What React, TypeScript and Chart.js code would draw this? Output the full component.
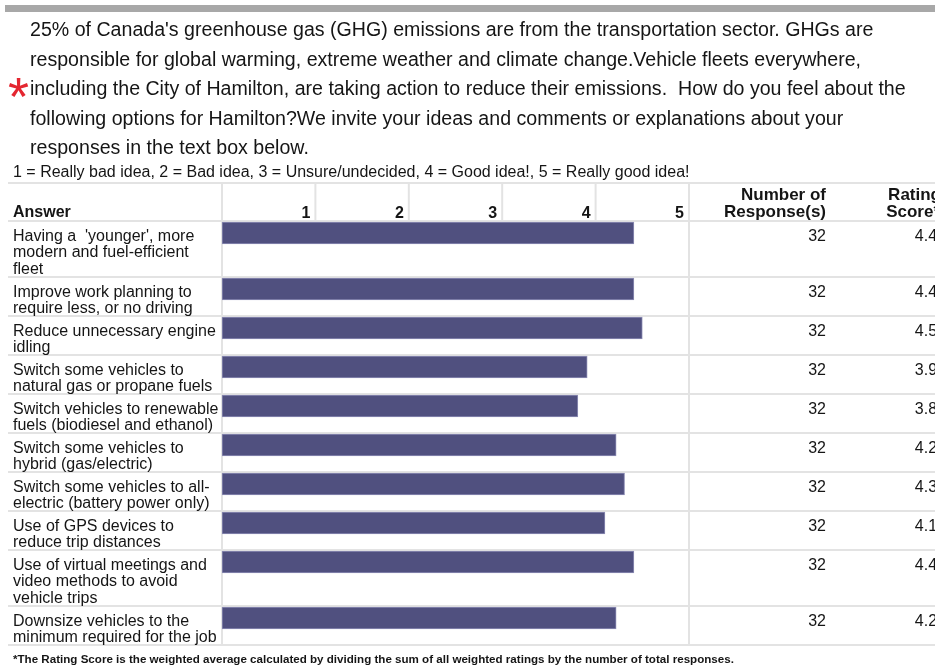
import React, { useEffect, useRef } from "react";
import { Chart, registerables } from "chart.js";

Chart.register(...registerables);

const introLines = [
  "25% of Canada's greenhouse gas (GHG) emissions are from the transportation sector. GHGs are",
  "responsible for global warming, extreme weather and climate change.Vehicle fleets everywhere,",
  "including the City of Hamilton, are taking action to reduce their emissions.  How do you feel about the",
  "following options for Hamilton?We invite your ideas and comments or explanations about your",
  "responses in the text box below.",
];
const scaleLegend =
  "1 = Really bad idea, 2 = Bad idea, 3 = Unsure/undecided, 4 = Good idea!, 5 = Really good idea!";
const answerLabels: string[][] = [
  ["Having a  'younger', more", "modern and fuel-efficient", "fleet"],
  ["Improve work planning to", "require less, or no driving"],
  ["Reduce unnecessary engine", "idling"],
  ["Switch some vehicles to", "natural gas or propane fuels"],
  ["Switch vehicles to renewable", "fuels (biodiesel and ethanol)"],
  ["Switch some vehicles to", "hybrid (gas/electric)"],
  ["Switch some vehicles to all-", "electric (battery power only)"],
  ["Use of GPS devices to", "reduce trip distances"],
  ["Use of virtual meetings and", "video methods to avoid", "vehicle trips"],
  ["Downsize vehicles to the", "minimum required for the job"],
];
const responseCounts = [32, 32, 32, 32, 32, 32, 32, 32, 32, 32];
const ratingScores = [4.41, 4.41, 4.5, 3.91, 3.81, 4.22, 4.31, 4.1, 4.41, 4.22];
const ratingTicks = [1, 2, 3, 4, 5];
const headerAnswer = "Answer";
const headerResponses = ["Number of", "Response(s)"];
const headerRating = ["Rating", "Score*"];
const footnote =
  "*The Rating Score is the weighted average calculated by dividing the sum of all weighted ratings by the number of total responses.";

const W = 935;
const H = 667;
const FONT = "'Liberation Sans', Arial, sans-serif";
const LINE_PX = 17;
const ROW_PAD = 5;
const GRID = "#e3e3e3";
const TEXT = "#151515";

export default function App() {
  const ref = useRef<HTMLCanvasElement | null>(null);

  useEffect(() => {
    if (!ref.current) return;
    const rowHeights = answerLabels.map((l) => l.length * LINE_PX + ROW_PAD);
    const rowTops: number[] = [];
    let acc = 0;
    rowHeights.forEach((h) => {
      rowTops.push(acc);
      acc += h;
    });
    const totalH = acc;
    const barThickness = 22;

    const tablePlugin = {
      id: "tableLayout",
      beforeDraw(chart: any) {
        const { ctx, chartArea } = chart;
        const xs = chart.scales.x;
        const ys = chart.scales.y;
        ctx.save();
        ctx.fillStyle = "#ffffff";
        ctx.fillRect(0, 0, W, H);

        // top gray rule
        ctx.fillStyle = "#a8a8a8";
        ctx.fillRect(5, 5, W - 5, 7);

        // intro paragraph
        ctx.fillStyle = TEXT;
        ctx.font = `19.6px ${FONT}`;
        ctx.textAlign = "left";
        ctx.textBaseline = "alphabetic";
        introLines.forEach((t, i) => ctx.fillText(t, 30, 36 + i * 29.5));

        // red asterisk
        ctx.fillStyle = "#e42630";
        ctx.font = `54px ${FONT}`;
        ctx.fillText("*", 8, 115);

        // legend line
        ctx.fillStyle = TEXT;
        ctx.font = `16px ${FONT}`;
        ctx.fillText(scaleLegend, 13, 177);

        const tableTop = 183;
        const top = chartArea.top;
        const bottom = chartArea.bottom;

        // horizontal rules
        ctx.fillStyle = GRID;
        ctx.fillRect(8, tableTop - 1, W - 8, 2);
        ctx.fillRect(8, top - 1, W - 8, 2);
        rowTops.forEach((rt, i) => {
          const yb = ys.getPixelForValue(rt + rowHeights[i]);
          ctx.fillRect(8, yb - 1, W - 8, 2);
        });
        // vertical rules
        const x0 = xs.getPixelForValue(0);
        const x5 = xs.getPixelForValue(5);
        ctx.fillRect(x0 - 1, tableTop, 2, bottom - tableTop);
        ctx.fillRect(x5 - 1, tableTop, 2, bottom - tableTop);
        ratingTicks.forEach((t) => {
          const px = xs.getPixelForValue(t);
          ctx.fillRect(px - 1, tableTop, 2, top - tableTop);
        });

        // header
        ctx.fillStyle = TEXT;
        ctx.font = `bold 16px ${FONT}`;
        ctx.textAlign = "left";
        ctx.fillText(headerAnswer, 13, 217);
        ctx.textAlign = "right";
        ratingTicks.forEach((t) => {
          ctx.fillText(String(t), xs.getPixelForValue(t) - 5, 218);
        });
        ctx.font = `bold 17px ${FONT}`;
        ctx.fillText(headerResponses[0], 826, 200);
        ctx.fillText(headerResponses[1], 826, 217);
        ctx.fillText(headerRating[0], 941, 200);
        ctx.fillText(headerRating[1], 940, 217);

        // rows
        answerLabels.forEach((lines, i) => {
          const y0 = ys.getPixelForValue(rowTops[i]);
          ctx.font = `16px ${FONT}`;
          ctx.textAlign = "left";
          lines.forEach((l, j) => ctx.fillText(l, 13, y0 + 20 + j * 16.3));
          ctx.textAlign = "right";
          ctx.fillText(String(responseCounts[i]), 826, y0 + 20);
          ctx.fillText(ratingScores[i].toFixed(2), 946, y0 + 20);
        });

        // footnote
        ctx.textAlign = "left";
        ctx.font = `bold 11.6px ${FONT}`;
        ctx.fillText(footnote, 13, 663);
        ctx.restore();
      },
    };

    const chart = new Chart(ref.current, {
      type: "bar",
      data: {
        datasets: [
          {
            data: ratingScores.map((v, i) => ({ x: v, y: rowTops[i] + 1 + barThickness / 2 })),
            backgroundColor: "#50507f",
            borderColor: "#8d8db5",
            borderWidth: 1,
            barThickness,
            borderSkipped: false,
          },
        ],
      },
      options: {
        indexAxis: "y",
        responsive: false,
        animation: false,
        devicePixelRatio: 1,
        layout: { padding: { left: 222, right: W - 689, top: 221, bottom: H - 221 - totalH } },
        scales: {
          x: { type: "linear", min: 0, max: 5, display: false, offset: false },
          y: { type: "linear", min: 0, max: totalH, reverse: true, display: false, offset: false },
        },
        plugins: { legend: { display: false }, tooltip: { enabled: false }, title: { display: false } },
      },
      plugins: [tablePlugin],
    });
    return () => chart.destroy();
  }, []);

  return (
    <div style={{ position: "fixed", left: 0, top: 0, width: W, height: H, background: "#fff" }}>
      <canvas ref={ref} width={W} height={H} style={{ width: W, height: H, display: "block" }} />
    </div>
  );
}
